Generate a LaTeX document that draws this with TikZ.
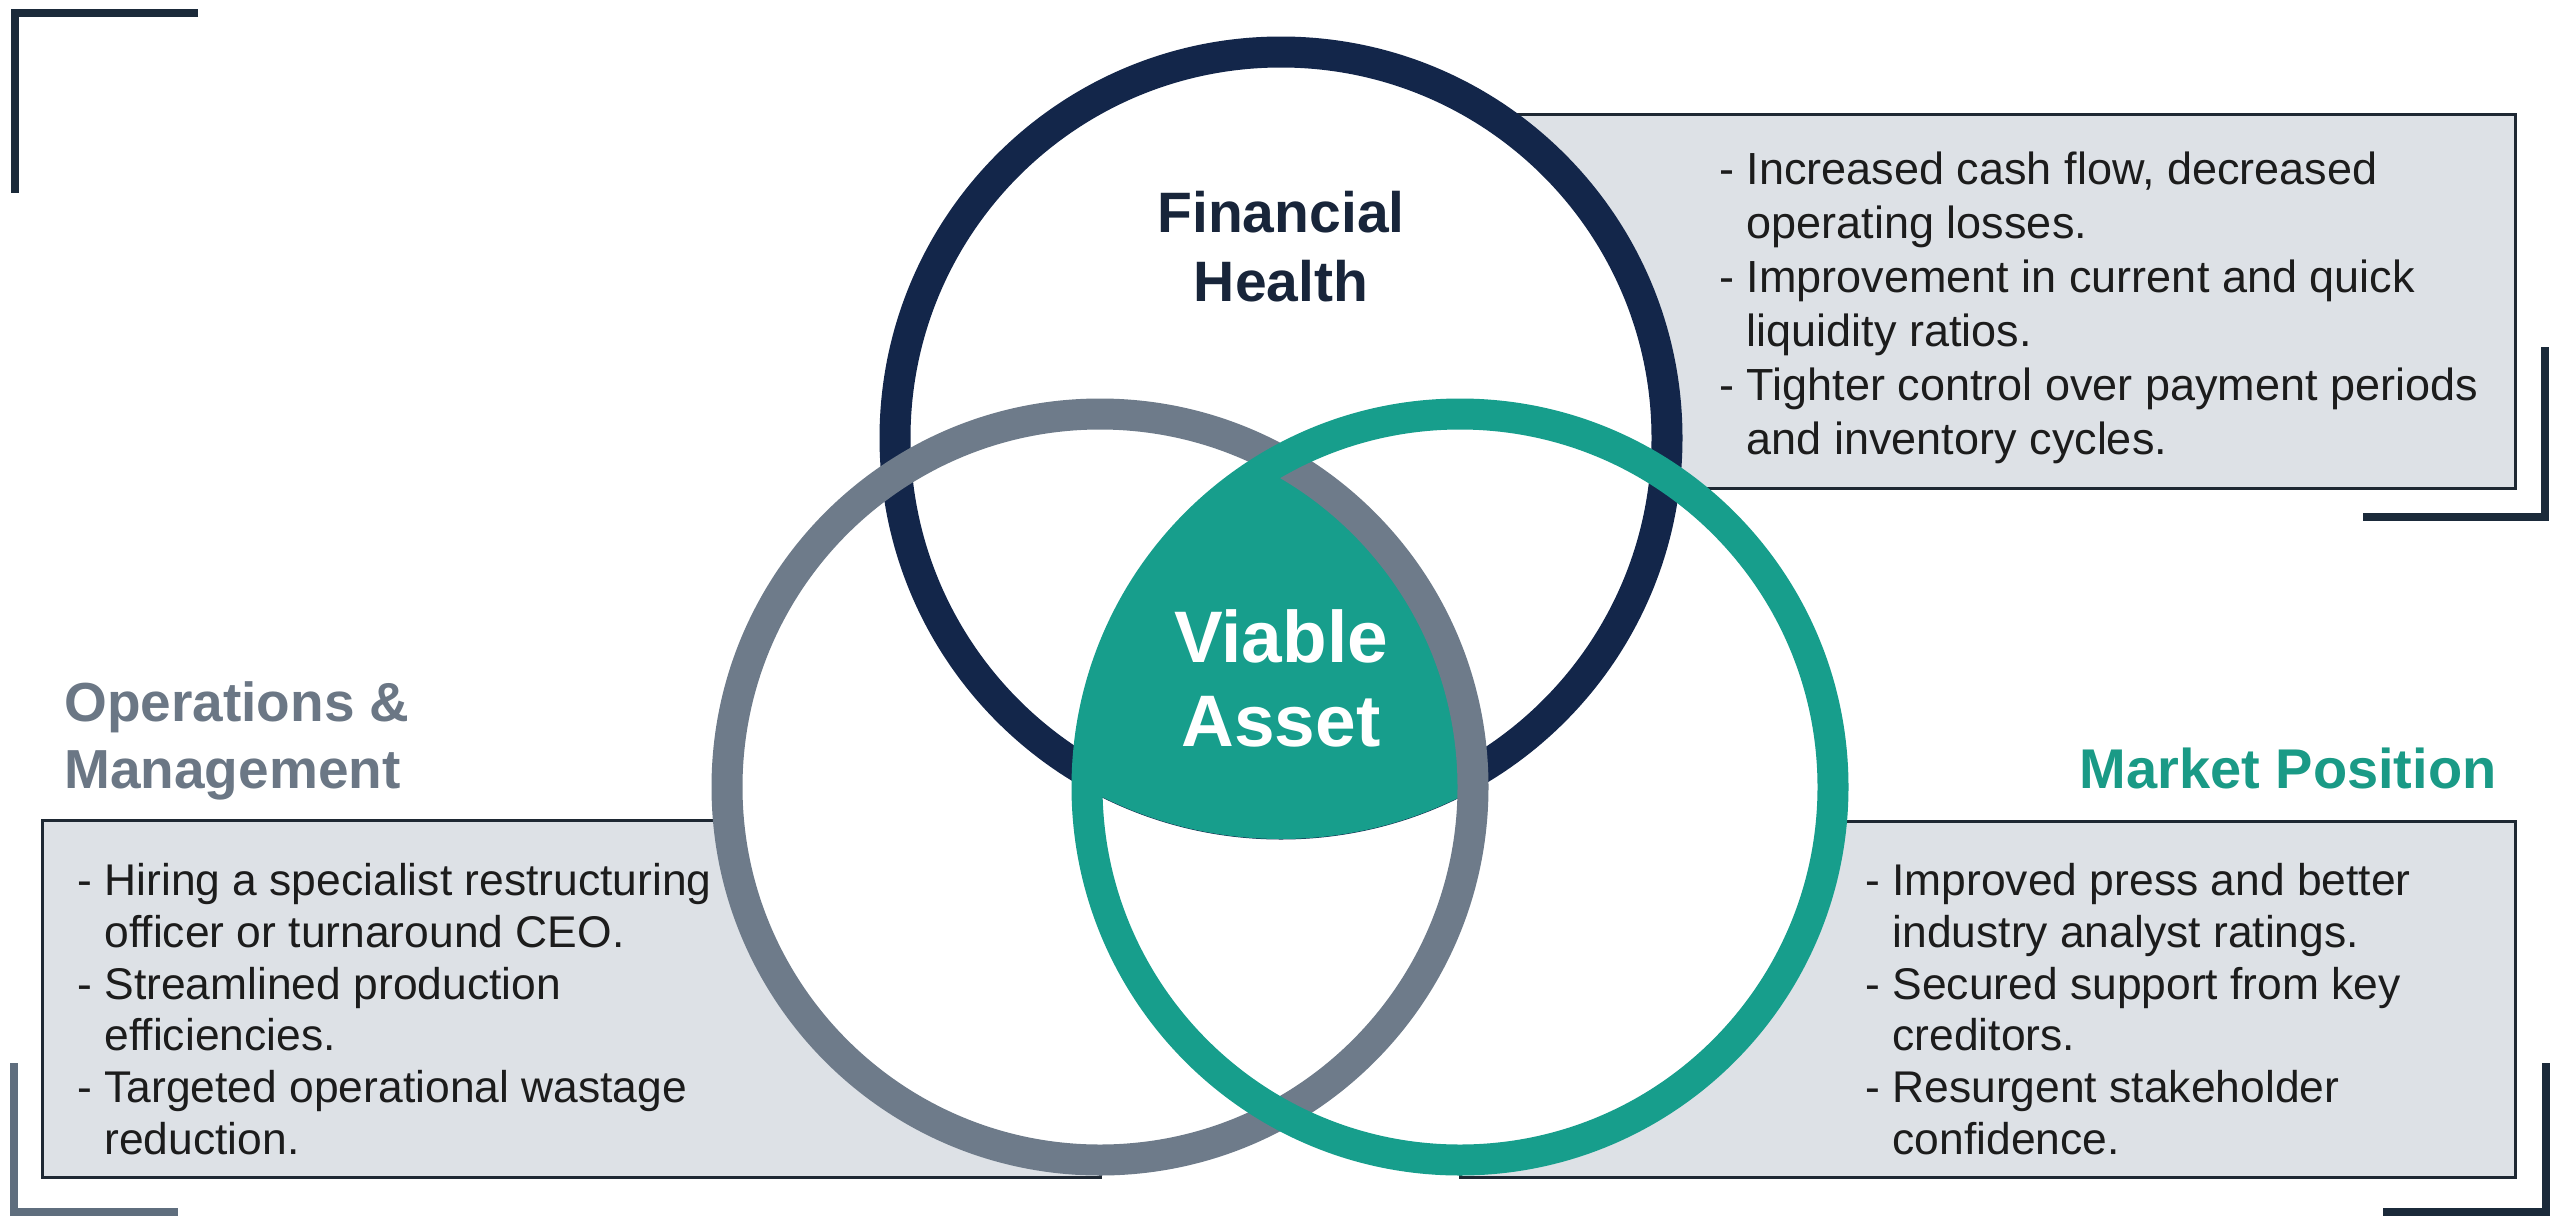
\documentclass[tikz,border=0pt]{standalone}
\usepackage{fontspec}
\setmainfont{Liberation Sans}
\definecolor{navy}{HTML}{13264A}
\definecolor{navytext}{HTML}{18253A}
\definecolor{grayring}{HTML}{6E7B8A}
\definecolor{graytext}{HTML}{6B7785}
\definecolor{tealc}{HTML}{179E8C}
\definecolor{tealtext}{HTML}{1A9A86}
\definecolor{boxfill}{HTML}{DDE1E6}
\definecolor{boxline}{HTML}{1E2833}
\definecolor{bodyc}{HTML}{1C1C1C}
\definecolor{bracketdark}{HTML}{1B2A3A}
\definecolor{bracketgray}{HTML}{5F6E7E}
\tikzset{
  infobox/.style={fill=boxfill, draw=boxline, line width=1.5pt},
  ring/.style={line width=15.5pt},
  bracket/.style={line width=4pt, line cap=butt, line join=miter},
  bodytext/.style={inner sep=0pt, align=left, text=bodyc, anchor=north west,
    font=\fontsize{22.2}{25.9}\selectfont},
}
\begin{document}
\begin{tikzpicture}[x=0.5pt, y=-0.5pt]
\useasboundingbox (0,0) rectangle (2559,1216);
\fill[white] (0,0) rectangle (2559,1216);

% centres
\coordinate (cF) at (1281,438);
\coordinate (cO) at (1100,787);
\coordinate (cM) at (1460,787);

% corner brackets
\draw[bracket, bracketdark] (198,13) -- (15,13) -- (15,193);
\draw[bracket, bracketdark] (2545,347) -- (2545,517) -- (2363,517);
\draw[bracket, bracketgray] (14,1063) -- (14,1212) -- (178,1212);
\draw[bracket, bracketdark] (2546,1063) -- (2546,1212) -- (2383,1212);

% info boxes
\draw[infobox] (1281,114) rectangle (2515,488);
\draw[infobox] (42,820) rectangle (1100,1177);
\draw[infobox] (1460,821) rectangle (2515,1177);

% white disks
\fill[white] (cF) circle[radius=401];
\fill[white] (cO) circle[radius=388];
\fill[white] (cM) circle[radius=388];

% dark ring
\draw[ring, navy] (cF) circle[radius=386];

% central intersection
\begin{scope}
  \clip (cF) circle[radius=401];
  \clip (cO) circle[radius=373];
  \clip (cM) circle[radius=373];
  \fill[tealc] (0,0) rectangle (2559,1216);
\end{scope}

% gray and teal rings
\draw[ring, grayring] (cO) circle[radius=373];
\draw[ring, tealc] (cM) circle[radius=373];

% titles
\node[inner sep=0pt, align=center, text=navytext, font=\fontsize{28.5}{34.5}\selectfont\bfseries] (fh) at (1281,247) {Financial\\Health};
\node[inner sep=0pt, align=center, text=white, font=\fontsize{36.5}{42}\selectfont\bfseries] (va) at (1281,678) {Viable\\Asset};
\node[inner sep=0pt, align=left, anchor=north west, text=graytext, font=\fontsize{27.5}{33.5}\selectfont\bfseries] (om) at (64,681) {Operations \&\\Management};
\node[inner sep=0pt, anchor=east, text=tealtext, font=\fontsize{28}{33}\selectfont\bfseries] (mp) at (2497,768) {Market Position};

% body texts
\node[bodytext, font=\fontsize{22.5}{27}\selectfont] (fhtext) at (1719,151) {- Increased cash flow, decreased\\\hphantom{- }operating losses.\\- Improvement in current and quick\\\hphantom{- }liquidity ratios.\\- Tighter control over payment periods\\\hphantom{- }and inventory cycles.};
\node[bodytext] (omtext) at (77,863) {- Hiring a specialist restructuring\\\hphantom{- }officer or turnaround CEO.\\- Streamlined production\\\hphantom{- }efficiencies.\\- Targeted operational wastage\\\hphantom{- }reduction.};
\node[bodytext] (mptext) at (1865,863) {- Improved press and better\\\hphantom{- }industry analyst ratings.\\- Secured support from key\\\hphantom{- }creditors.\\- Resurgent stakeholder\\\hphantom{- }confidence.};
\end{tikzpicture}
\end{document}
